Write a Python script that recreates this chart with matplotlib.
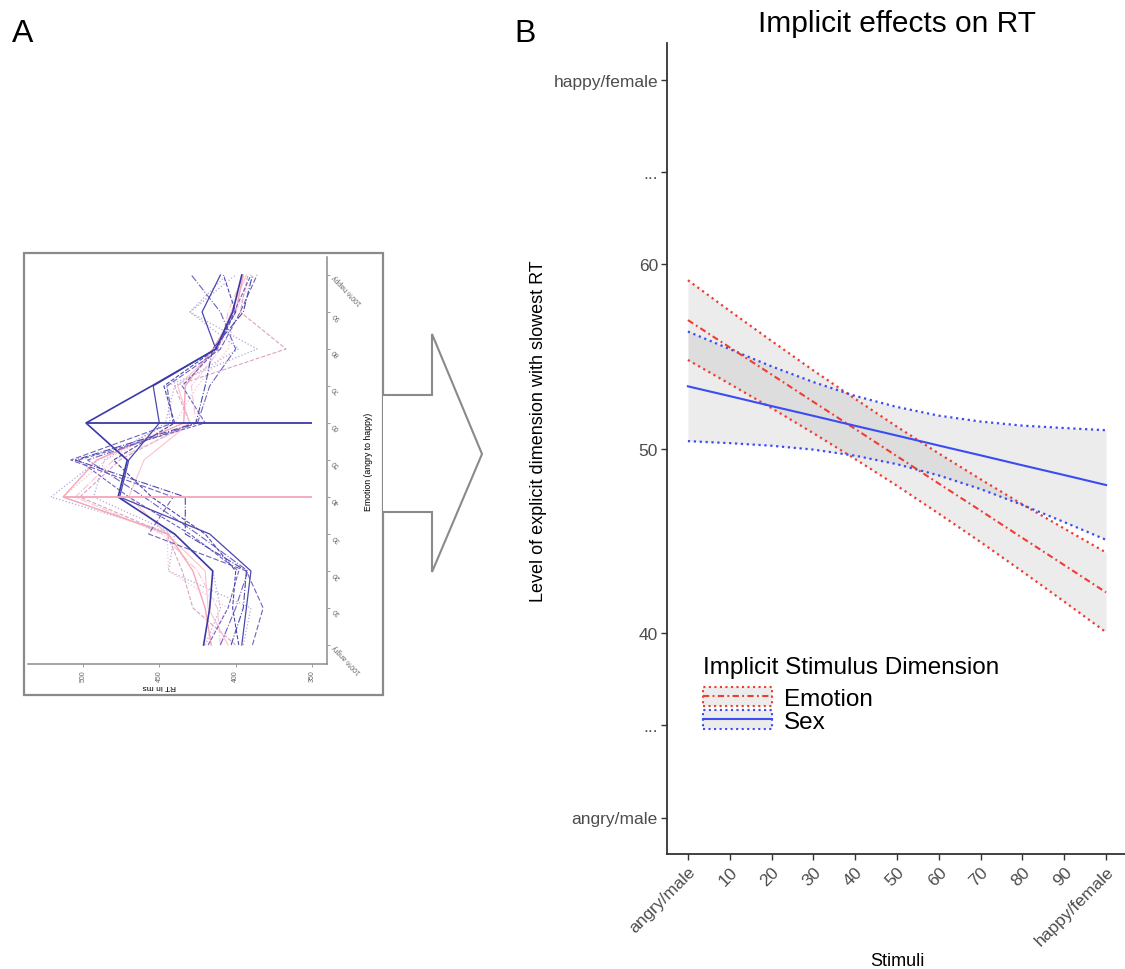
import matplotlib
matplotlib.use("Agg")
import matplotlib.pyplot as plt
from matplotlib.patches import Rectangle, Polygon
from matplotlib.lines import Line2D

plt.rcParams['font.family'] = ['Liberation Sans', 'DejaVu Sans']

# ---------------- Panel A: RT per emotion morph level (rotated layout) ----------------
emotion_levels = [0, 10, 20, 30, 40, 50, 60, 70, 80, 90, 100]
emotion_tick_labels = ['100% angry', '10', '20', '30', '40', '50', '60', '70', '80', '90', '100% happy']
rt_ticks = [500, 450, 400, 350]

rt_blue_main = [421, 417, 415, 440, 477, 471, 498, 455, 413, 402, 396]
rt_blue_2 = [396, 393, 390, 417, 476, 470, 450, 454, 413, 422, 410]
rt_slate_dash = [389, 382, 393, 457, 441, 508, 441, 445, 410, 397, 386]
rt_slate_dashdot = [403, 395, 393, 433, 433, 505, 426, 420, 415, 395, 389]
rt_lavender_dot = [395, 390, 444, 440, 521, 490, 443, 445, 386, 430, 406]
rt_pink_main = [416, 420, 428, 444, 513, 491, 434, 433, 415, 400, 395]
rt_pink_dash = [400, 428, 435, 445, 502, 476, 430, 440, 367, 397, 392]
rt_pink_dot = [420, 405, 444, 445, 513, 485, 440, 425, 405, 400, 388]
rt_pink_dashdot = [410, 412, 425, 448, 505, 480, 426, 429, 410, 405, 395]
rt_purple_dash = [418, 405, 398, 430, 470, 503, 420, 435, 412, 401, 390]
rt_purple_dashdot = [410, 400, 392, 425, 460, 497, 425, 417, 400, 410, 429]
rt_lilac_dot = [420, 410, 415, 440, 493, 486, 446, 440, 398, 430, 400]
rt_rose_solid = [405, 418, 420, 445, 470, 460, 430, 438, 412, 403, 393]
rt_blue_dash = [398, 402, 400, 420, 455, 480, 440, 447, 413, 400, 408]

# ---------------- Panel B: fitted explicit level by implicit dimension ----------------
stim_levels = [0, 10, 20, 30, 40, 50, 60, 70, 80, 90, 100]
stim_tick_labels = ['angry/male', '10', '20', '30', '40', '50', '60', '70', '80', '90', 'happy/female']
level_ticks = [30, 35, 40, 50, 60, 65, 70]
level_tick_labels = ['angry/male', '...', '40', '50', '60', '...', 'happy/female']

emotion_fit = [56.96, 55.48, 54.01, 52.53, 51.06, 49.58, 48.10, 46.63, 45.15, 43.68, 42.20]
emotion_hi = [59.12, 57.46, 55.83, 54.23, 52.69, 51.18, 49.73, 48.33, 46.97, 45.66, 44.36]
emotion_lo = [54.80, 53.50, 52.19, 50.83, 49.43, 47.98, 46.47, 44.93, 43.33, 41.70, 40.04]

sex_fit = [53.37, 52.84, 52.30, 51.77, 51.23, 50.70, 50.16, 49.63, 49.09, 48.56, 48.02]
sex_hi = [56.34, 55.39, 54.45, 53.60, 52.85, 52.25, 51.78, 51.46, 51.24, 51.11, 50.99]
sex_lo = [50.40, 50.29, 50.15, 49.94, 49.61, 49.15, 48.54, 47.80, 46.94, 46.01, 45.05]

W, H = 1125, 970
fig = plt.figure(figsize=(W / 100, H / 100), dpi=100)


def fx(px):
    return px / W


def fy(py):
    return 1 - py / H


# ---- Panel A ----
axA = fig.add_axes([fx(28), fy(664.5), (327.3 - 28) / W, (664.5 - 257.5) / H])
axA.set_xlim(536, 340)
axA.set_ylim(-5, 105)

c_dark = '#3a3aa6'
c_blue = '#4b48b0'
c_slate = '#6e63bf'
c_lav = '#b2a8dc'
c_pink = '#f5a6b9'
c_lpink = '#f7c4d0'
c_rose = '#dba3c3'

series_A = [
    (rt_lilac_dot, c_lav, ':', 0.9),
    (rt_lavender_dot, c_lav, ':', 0.9),
    (rt_pink_dot, c_lpink, ':', 0.9),
    (rt_pink_dash, c_rose, '--', 0.8),
    (rt_pink_dashdot, c_lpink, '-.', 0.8),
    (rt_rose_solid, c_lpink, '-', 0.8),
    (rt_pink_main, c_pink, '-', 1.0),
    (rt_purple_dash, c_slate, '--', 0.8),
    (rt_purple_dashdot, c_slate, '-.', 0.8),
    (rt_slate_dash, c_slate, (0, (5, 2)), 0.8),
    (rt_slate_dashdot, c_blue, '-.', 0.8),
    (rt_blue_dash, c_blue, '--', 0.8),
    (rt_blue_2, c_blue, '-', 0.9),
    (rt_blue_main, c_dark, '-', 1.2),
]
for rts, col, ls, lw in series_A:
    axA.plot(rts, emotion_levels, color=col, ls=ls, lw=lw)

# lines from each slowest level out to the axis
i_blue = rt_blue_main.index(max(rt_blue_main))
i_pink = rt_pink_main.index(max(rt_pink_main))
axA.hlines(emotion_levels[i_blue], max(rt_blue_main), rt_ticks[-1], color=c_dark, lw=1.3)
axA.hlines(emotion_levels[i_pink], max(rt_pink_main), rt_ticks[-1], color=c_pink, lw=1.3)

for s in ['top', 'left']:
    axA.spines[s].set_visible(False)
for s in ['right', 'bottom']:
    axA.spines[s].set_color('#8c8c8c')
    axA.spines[s].set_linewidth(1.1)
axA.yaxis.tick_right()
axA.set_yticks(emotion_levels)
axA.set_yticklabels(emotion_tick_labels, fontsize=5, color='#666666')
for lbl in axA.get_yticklabels():
    lbl.set_rotation(135)
    lbl.set_ha('right')
    lbl.set_va('center')
    lbl.set_rotation_mode('anchor')
axA.set_xticks(rt_ticks)
axA.set_xticklabels([str(t) for t in rt_ticks], fontsize=5, color='#666666', rotation=90)
axA.tick_params(length=2.5, width=0.6, color='#8c8c8c', pad=2)
axA.set_xlabel('RT in ms', fontsize=6, rotation=180)
axA.xaxis.set_label_coords((159 - 28) / (327.3 - 28), -0.045)
axA.yaxis.set_label_position('right')
axA.set_ylabel('Emotion (angry to happy)', fontsize=6.3, rotation=90)
axA.yaxis.set_label_coords((364 - 28) / (327.3 - 28), 0.4975)

fig.add_artist(Rectangle((fx(24), fy(696)), (383 - 24) / W, (696 - 254) / H,
                         transform=fig.transFigure, fill=False, ec='#8a8a8a', lw=1.6))

arrow_px = [(383, 396), (432, 396), (432, 335), (482, 455), (432, 573), (432, 513), (383, 513)]
fig.add_artist(Polygon([(fx(x), fy(y)) for x, y in arrow_px], closed=False,
                       transform=fig.transFigure, fc='white', ec='#8a8a8a', lw=1.5))

# ---- Panel B ----
axB = fig.add_axes([fx(667), fy(855.4), 460 / W, 811.8 / H])
axB.set_xlim(-5, 105)
axB.set_ylim(28, 72)

red = '#f03c32'
blue = '#3a4cf2'
band = (0.6, 0.6, 0.6, 0.18)
dashdot = (0, (3.0, 1.6, 0.9, 1.6))

axB.fill_between(stim_levels, emotion_lo, emotion_hi, color=band, lw=0)
axB.fill_between(stim_levels, sex_lo, sex_hi, color=band, lw=0)
axB.plot(stim_levels, emotion_hi, color=red, ls=':', lw=1.6)
axB.plot(stim_levels, emotion_lo, color=red, ls=':', lw=1.6)
axB.plot(stim_levels, sex_hi, color=blue, ls=':', lw=1.6)
axB.plot(stim_levels, sex_lo, color=blue, ls=':', lw=1.6)
axB.plot(stim_levels, emotion_fit, color=red, ls=dashdot, lw=1.5)
axB.plot(stim_levels, sex_fit, color=blue, ls='-', lw=1.5)

for s in ['top', 'right']:
    axB.spines[s].set_visible(False)
for s in ['left', 'bottom']:
    axB.spines[s].set_color('#333333')
    axB.spines[s].set_linewidth(1.3)
axB.set_xticks(stim_levels)
axB.set_xticklabels(stim_tick_labels, fontsize=12.5, color='#4d4d4d')
for lbl in axB.get_xticklabels():
    lbl.set_rotation(45)
    lbl.set_ha('right')
    lbl.set_va('top')
    lbl.set_rotation_mode('anchor')
axB.set_yticks(level_ticks)
axB.set_yticklabels(level_tick_labels, fontsize=12.5, color='#4d4d4d')
axB.tick_params(length=4, width=1.0, color='#333333', pad=2.5)

axB.set_xlabel('Stimuli', fontsize=13)
axB.xaxis.set_label_coords(0.5, -0.12)
axB.set_ylabel('Level of explicit dimension with slowest RT', fontsize=13)
axB.yaxis.set_label_coords((547 - 667) / 460, 0.5228)
axB.set_title('Implicit effects on RT', fontsize=21.5, pad=8)

handles = [
    (Rectangle((0, 0), 1, 1, fc=band, ec=red, ls=':', lw=1.5),
     Line2D([], [], color=red, ls=dashdot, lw=1.5)),
    (Rectangle((0, 0), 1, 1, fc=band, ec=blue, ls=':', lw=1.5),
     Line2D([], [], color=blue, ls='-', lw=1.5)),
]
leg = axB.legend(handles, ['Emotion', 'Sex'], title='Implicit Stimulus Dimension',
                 fontsize=17.5, title_fontsize=17.5, frameon=False, loc='upper left',
                 bbox_to_anchor=(0.078, 0.245), borderaxespad=0, borderpad=0,
                 handlelength=2.85, handleheight=0.82, labelspacing=0.0,
                 handletextpad=0.5, alignment='left')
# extra gap between the legend title and its entries
leg._legend_box.sep = 7

fig.text(fx(12), fy(41.7), 'A', fontsize=23, va='baseline', ha='left')
fig.text(fx(514), fy(41.7), 'B', fontsize=23, va='baseline', ha='left')

fig.savefig('out.png', dpi=100, facecolor='white')
